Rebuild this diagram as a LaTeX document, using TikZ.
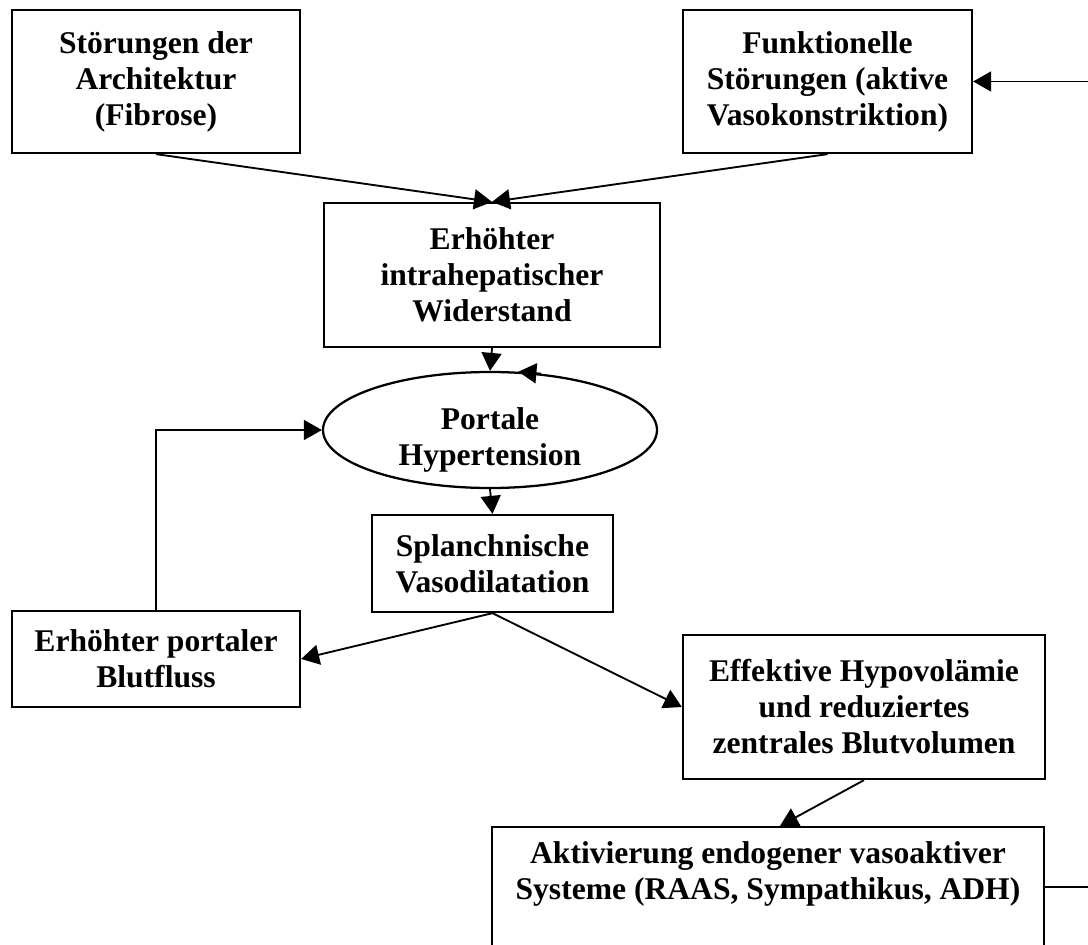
\documentclass[tikz,border=0pt]{standalone}
\usepackage{fontspec}
\setmainfont{Liberation Serif}
\usetikzlibrary{
  arrows.meta,
  shapes.geometric,
  positioning,
  calc
}
\newlength{\pxu}
\setlength{\pxu}{0.75pt}
\tikzset{
  phnode/.style={
    draw, line width=1.7pt, align=center, inner sep=0pt,
    font=\bfseries\fontsize{23.7pt}{27pt}\selectfont
  },
  phbox/.style={phnode, rectangle},
  phoval/.style={phnode, ellipse},
  phtext/.style={align=center, inner sep=0pt, font=\bfseries\fontsize{23.7pt}{27pt}\selectfont},
  phflow/.style={-{Triangle[length=13.5pt, width=15pt]}, line width=1.4pt},
  phline/.style={line width=1.4pt}
}

\begin{document}
\begin{tikzpicture}[x=0.75pt, y=-0.75pt]
  \useasboundingbox (0,0) rectangle (1088,945);
  % causes
  \node[phbox, minimum width=288\pxu, minimum height=143\pxu] (stoer) at (156,81.5) {St\"orungen der\\Architektur\\(Fibrose)};
  \node[phbox, minimum width=289\pxu, minimum height=143\pxu] (funk) at (827.5,81.5) {Funktionelle\\St\"orungen (aktive\\Vasokonstriktion)};
  \node[phbox, minimum width=336\pxu, minimum height=144\pxu] (wider) at (492,275) {Erh\"ohter\\intrahepatischer\\Widerstand};
  \node[phoval, minimum width=334\pxu, minimum height=116\pxu] (portal) at (490,430) {};
  \node[phtext] (portaltext) at (490,440) {Portale\\Hypertension};
  \node[phbox, minimum width=241\pxu, minimum height=97\pxu] (splan) at (492.5,563.5) {Splanchnische\\Vasodilatation};
  \node[phbox, minimum width=288\pxu, minimum height=96\pxu] (blut) at (156,659) {Erh\"ohter portaler\\Blutfluss};
  \node[phbox, minimum width=362\pxu, minimum height=144\pxu] (hypo) at (864,707) {Effektive Hypovol\"amie\\und reduziertes\\zentrales Blutvolumen};
  % systemic activation (box runs past the page)
  \node[phbox, minimum width=552\pxu, minimum height=173\pxu] (act) at (768,913.5) {};
  \node[phtext] (acttext) at (768,874) {Aktivierung endogener vasoaktiver\\Systeme (RAAS, Sympathikus, ADH)};
  \coordinate (fbR) at (1096,887);

  \draw[phflow] (stoer.south) -- (wider.north);
  \draw[phflow] (funk.south) -- (wider.north);
  \draw[phflow] (wider.south) -- (portal.north);
  \draw[phflow] (portal.48) -- (portal.64);
  \draw[phflow] (portal.south) -- (splan.north);
  \draw[phflow] (splan.south) -- (blut.east);
  \draw[phflow] (splan.south) -- (hypo.west);
  \draw[phflow] (blut.north) |- (portal.west);
  \draw[phflow] (hypo.south) -- ([xshift=12\pxu]act.north);
  \draw[phflow] (act.east |- fbR) -- (fbR) |- (funk.east);
\end{tikzpicture}
\end{document}
